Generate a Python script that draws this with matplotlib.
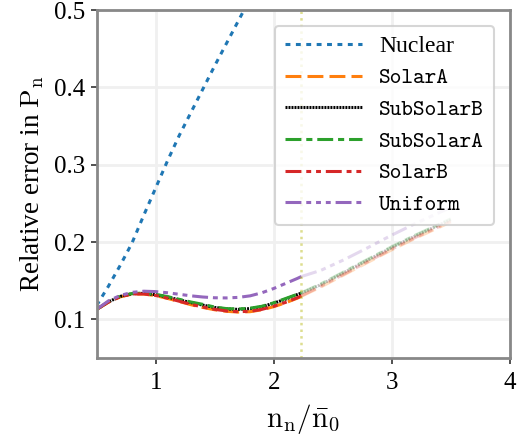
import matplotlib
matplotlib.use("Agg")
import matplotlib.pyplot as plt
import numpy as np

# data
n_ratio = [0.5, 0.6, 0.7, 0.8, 0.9, 1.0, 1.1, 1.2, 1.3, 1.4, 1.5, 1.6, 1.7, 1.8, 1.9,
           2.0, 2.1, 2.2, 2.235, 2.4, 2.6, 2.8, 3.0, 3.2, 3.4, 3.5]
n_cut = 2.235

nuclear_x = [0.5, 0.6, 0.7, 0.8, 0.9, 1.0, 1.1, 1.2, 1.3, 1.4, 1.5, 1.6, 1.7, 1.8]
nuclear = [0.118, 0.143, 0.170, 0.199, 0.235, 0.270, 0.305, 0.338, 0.368, 0.398,
           0.428, 0.457, 0.486, 0.515]

solar_a = [0.113, 0.1222, 0.1292, 0.1328, 0.1328, 0.1308, 0.1272, 0.1232, 0.1190, 0.1155,
           0.1125, 0.1105, 0.1095, 0.1100, 0.1125, 0.1165, 0.1215, 0.1275, 0.1300,
           0.1420, 0.1580, 0.1740, 0.1900, 0.2050, 0.2190, 0.2260]
sub_solar_b = [0.113, 0.1227, 0.1298, 0.1333, 0.1337, 0.1320, 0.1290, 0.1253, 0.1217, 0.1185,
               0.1155, 0.1135, 0.1130, 0.1140, 0.1165, 0.1210, 0.1262, 0.1322, 0.1340,
               0.1450, 0.1610, 0.1770, 0.1930, 0.2080, 0.2220, 0.2290]
sub_solar_a = [0.113, 0.1228, 0.1300, 0.1335, 0.1340, 0.1325, 0.1295, 0.1260, 0.1225, 0.1195,
               0.1160, 0.1140, 0.1135, 0.1145, 0.1170, 0.1215, 0.1270, 0.1325, 0.1345,
               0.1460, 0.1620, 0.1780, 0.1940, 0.2090, 0.2230, 0.2300]
solar_b = [0.113, 0.1225, 0.1295, 0.1330, 0.1330, 0.1310, 0.1275, 0.1235, 0.1195, 0.1160,
           0.1130, 0.1110, 0.1100, 0.1105, 0.1130, 0.1170, 0.1220, 0.1280, 0.1305,
           0.1430, 0.1590, 0.1750, 0.1910, 0.2060, 0.2200, 0.2270]
uniform = [0.113, 0.124, 0.131, 0.135, 0.1365, 0.136, 0.1345, 0.1325, 0.1305, 0.129,
           0.128, 0.1278, 0.1285, 0.1305, 0.1345, 0.140, 0.1465, 0.153, 0.1555,
           0.1635, 0.1775, 0.193, 0.209, 0.224, 0.238, 0.245]

labels = ["Nuclear", "SolarA", "SubSolarB", "SubSolarA", "SolarB", "Uniform"]

plt.rcParams["font.family"] = ["Liberation Serif", "DejaVu Serif"]
plt.rcParams["mathtext.fontset"] = "cm"

fig = plt.figure(figsize=(5.31, 4.41), dpi=100)
ax = fig.add_axes([0.182, 0.188, 0.778, 0.789])

lw = 2.2
ax.plot(nuclear_x, nuclear, color="tab:blue", lw=lw, ls=(0, (1.6, 1.8)), label=labels[0])

styles = [
    (solar_a, "tab:orange", (0, (5.2, 2.0))),
    (sub_solar_b, "black", (0, (0.65, 0.33))),
    (sub_solar_a, "tab:green", (0, (5.2, 1.6, 2.0, 1.6))),
    (solar_b, "tab:red", (0, (5.2, 1.6, 1.6, 1.6, 1.6, 1.6))),
    (uniform, "tab:purple", (0, (5.2, 1.6, 1.6, 1.6, 1.6, 1.6, 1.6, 1.6))),
]
x = np.array(n_ratio)
inside = x <= n_cut
outside = x >= n_cut
for (vals, col, ls), lab in zip(styles, labels[1:]):
    y = np.array(vals)
    ax.plot(x[inside], y[inside], color=col, lw=lw, ls=ls, label=lab)
    ax.plot(x[outside], y[outside], color=col, lw=lw, ls=ls, alpha=0.25)

ax.axvline(n_cut, color="tab:olive", alpha=0.5, ls=":", lw=1.8)

ax.set_xlim(0.5, 4)
ax.set_ylim(0.05, 0.5)
ax.set_xticks([1, 2, 3, 4])
ax.set_yticks([0.1, 0.2, 0.3, 0.4, 0.5])
ax.set_yticklabels(["0.1", "0.2", "0.3", "0.4", "0.5"])
ax.grid(True, color="#f0f0f0", lw=2)
ax.set_axisbelow(True)
for s in ax.spines.values():
    s.set_color("#888888")
    s.set_linewidth(2)
ax.tick_params(labelsize=18, length=4, width=1.2, color="#333333")
ax.tick_params(axis="y", pad=4)
ax.tick_params(axis="x", pad=6)

ax.set_xlabel(r"$\mathrm{n}_\mathrm{n}/\bar{\mathrm{n}}_0$", fontsize=21, labelpad=6)
ax.set_ylabel(r"Relative error in $\mathrm{P}_\mathrm{n}$", fontsize=19.5, labelpad=6)

leg = ax.legend(loc="upper right", fontsize=16, handlelength=3.45, handletextpad=0.8,
                labelspacing=0.5, borderaxespad=0.7, borderpad=0.45, framealpha=0.8,
                edgecolor="#cccccc", fancybox=True)
leg.get_frame().set_linewidth(1.5)
for t in leg.get_texts()[1:]:
    t.set_fontfamily("cmtt10")
leg.get_texts()[0].set_fontsize(17)

fig.savefig("out.png", dpi=100)
